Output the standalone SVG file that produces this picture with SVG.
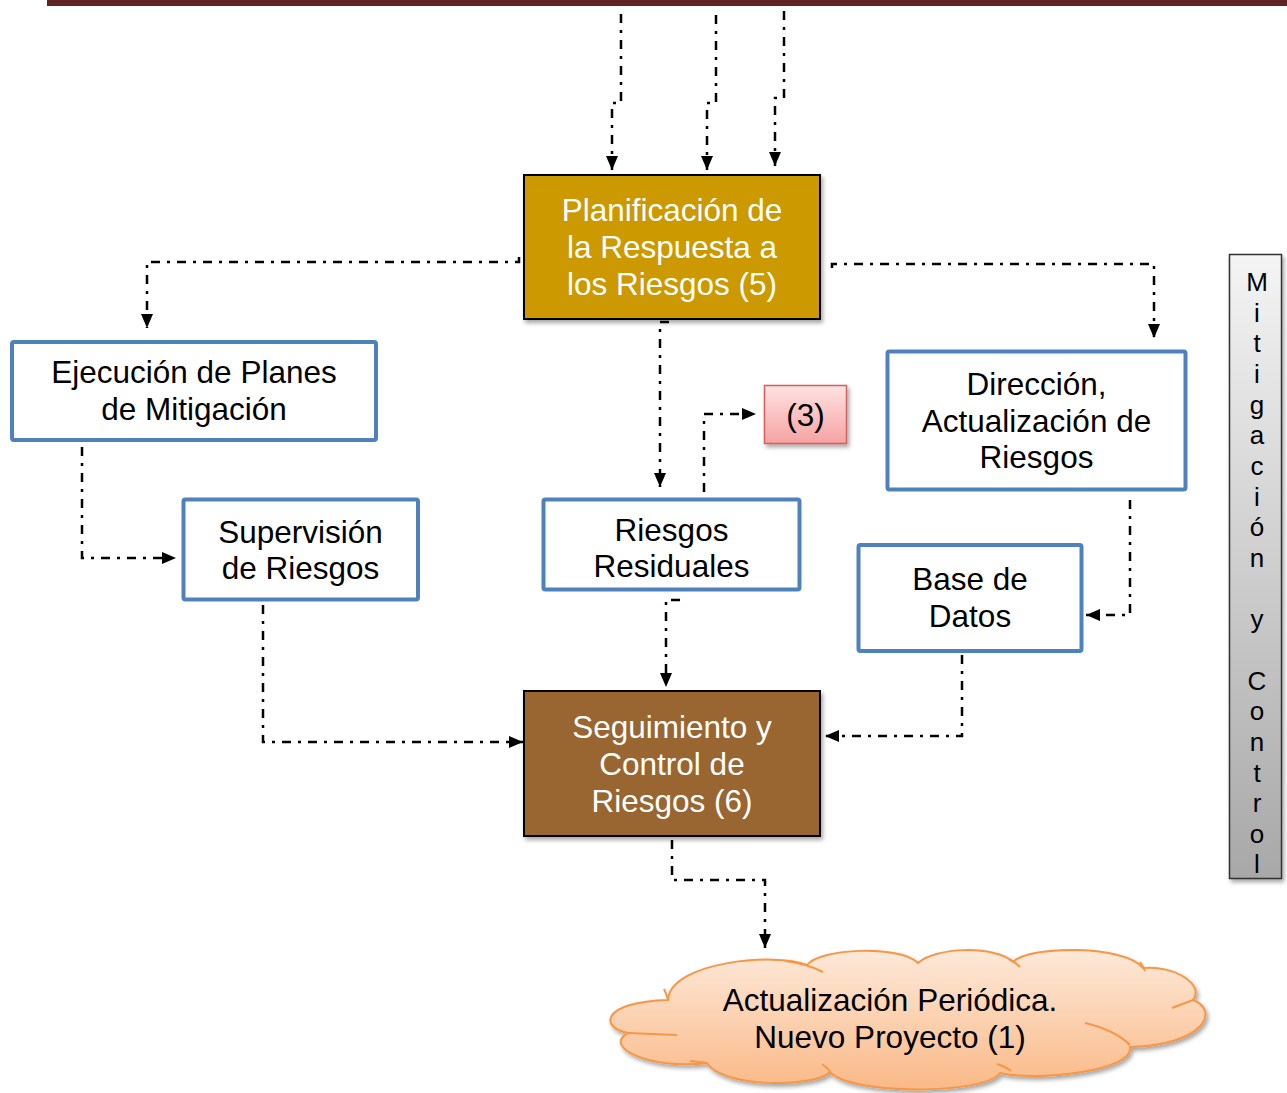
<svg xmlns="http://www.w3.org/2000/svg" width="1287" height="1093" viewBox="0 0 1287 1093">
  <style>
    .lbl { font-family: "Liberation Sans", Arial, sans-serif; font-size: 31.5px; text-anchor: middle; fill: #000; }
    .lbl.w { fill: #fff; }
    .vert { font-family: "Liberation Sans", Arial, sans-serif; font-size: 26px; text-anchor: middle; fill: #000; }
    .blue { fill: #fff; stroke: #4F81BD; stroke-width: 4; }
    .link { fill: none; stroke: #000; stroke-width: 2.5; stroke-dasharray: 9 7 3 7; marker-end: url(#arrow); }
    .puff { fill: none; stroke: #F79646; stroke-width: 2; }
  </style>
  <defs>
    <marker id="arrow" viewBox="0 0 14 12" refX="14" refY="6" markerWidth="14" markerHeight="12" markerUnits="userSpaceOnUse" orient="auto">
      <path d="M0,0 L14,6 L0,12 z" fill="#000"/>
    </marker>
    <filter id="shadow" x="-10%" y="-10%" width="130%" height="130%">
      <feDropShadow dx="2" dy="3" stdDeviation="2" flood-color="#000" flood-opacity="0.35"/>
    </filter>
    <linearGradient id="pink" x1="0" y1="0" x2="0" y2="1">
      <stop offset="0" stop-color="#FFE2E2"/>
      <stop offset="1" stop-color="#F6A3A3"/>
    </linearGradient>
    <linearGradient id="peach" x1="0" y1="0" x2="0" y2="1">
      <stop offset="0" stop-color="#FDE9D9"/>
      <stop offset="1" stop-color="#FAB987"/>
    </linearGradient>
    <linearGradient id="grey" x1="0" y1="0" x2="0" y2="1">
      <stop offset="0" stop-color="#F4F4F4"/>
      <stop offset="1" stop-color="#A8A8A8"/>
    </linearGradient>
  </defs>

  <rect x="0" y="0" width="1287" height="1093" fill="#fff"/>

  <!-- header rule -->
  <rect x="47" y="0" width="1240" height="6" fill="#622423"/>

  <!-- connectors -->
  <g id="connectors">
    <path class="link" d="M621,14 V103 H612 V170"/>
    <path class="link" d="M716,15 V103 H707 V170"/>
    <path class="link" d="M784,11 V98 H775 V166"/>
    <path class="link" d="M519,257 V262 H147 V328"/>
    <path class="link" d="M832,268 V264 H1154 V338"/>
    <path class="link" d="M669,322 H660 V487"/>
    <path class="link" d="M82,447 V558 H176"/>
    <path class="link" d="M263,605 V742 H523"/>
    <path class="link" d="M704,492 V414 H756"/>
    <path class="link" d="M680,600 H666 V687"/>
    <path class="link" d="M1130,500 V615 H1086"/>
    <path class="link" d="M962,655 V736 H825"/>
    <path class="link" d="M672,840 V880 H765 V948"/>
  </g>

  <!-- nodes -->
  <g id="planificacion">
    <rect x="524" y="175" width="296" height="144" fill="#CC9900" stroke="#000" stroke-width="2" filter="url(#shadow)"/>
    <text class="lbl w" x="672" y="221">Planificación de</text>
    <text class="lbl w" x="672" y="258">la Respuesta a</text>
    <text class="lbl w" x="672" y="295">los Riesgos (5)</text>
  </g>

  <g id="ejecucion">
    <rect class="blue" x="12" y="342" width="364" height="98" rx="2"/>
    <text class="lbl" x="194" y="383">Ejecución de Planes</text>
    <text class="lbl" x="194" y="420">de Mitigación</text>
  </g>

  <g id="supervision">
    <rect class="blue" x="183.5" y="499.5" width="234.5" height="100" rx="2"/>
    <text class="lbl" x="300.5" y="543">Supervisión</text>
    <text class="lbl" x="300.5" y="579">de Riesgos</text>
  </g>

  <g id="residuales">
    <rect class="blue" x="543.5" y="499.5" width="256" height="90" rx="2"/>
    <text class="lbl" x="671.5" y="541">Riesgos</text>
    <text class="lbl" x="671.5" y="577">Residuales</text>
  </g>

  <g id="ref3">
    <rect x="764.5" y="385.5" width="82" height="58" fill="url(#pink)" stroke="#D2605E" stroke-width="1.5" filter="url(#shadow)"/>
    <text class="lbl" x="805.5" y="426">(3)</text>
  </g>

  <g id="direccion">
    <rect class="blue" x="887.5" y="351.5" width="298" height="138" rx="2"/>
    <text class="lbl" x="1036.5" y="395">Dirección,</text>
    <text class="lbl" x="1036.5" y="432">Actualización de</text>
    <text class="lbl" x="1036.5" y="468">Riesgos</text>
  </g>

  <g id="basedatos">
    <rect class="blue" x="858.5" y="545" width="223" height="106" rx="2"/>
    <text class="lbl" x="970" y="590">Base de</text>
    <text class="lbl" x="970" y="627">Datos</text>
  </g>

  <g id="seguimiento">
    <rect x="524" y="691" width="296" height="145" fill="#996633" stroke="#000" stroke-width="2" filter="url(#shadow)"/>
    <text class="lbl w" x="672" y="738">Seguimiento y</text>
    <text class="lbl w" x="672" y="775">Control de</text>
    <text class="lbl w" x="672" y="812">Riesgos (6)</text>
  </g>

  <g id="actualizacion">
    <!-- cloud outline: ten puffs, clockwise from the lower-left -->
    <path d="M628,1033 C600,1028 600,1002 668,1000 C670,962 775,952 807,965 C820,948 900,945 918,963 C935,947 995,945 1013,962 C1030,945 1125,945 1143,968 C1175,965 1205,985 1193,1000 C1220,1010 1205,1045 1130,1047 C1135,1070 1040,1082 1000,1073 C985,1095 850,1095 830,1072 C815,1088 722,1088 707,1063 C650,1070 602,1047 628,1033 Z" fill="url(#peach)" stroke="#F79646" stroke-width="2" filter="url(#shadow)"/>
    <!-- inner puff creases -->
    <path class="puff" d="M664,989 Q667,995 668,1000"/>
    <path class="puff" d="M785,961 Q808,964 823,972"/>
    <path class="puff" d="M628,1033 Q655,1034 677,1035"/>
    <path class="puff" d="M690,1061 Q700,1062 707,1063"/>
    <path class="puff" d="M822,1064 Q828,1068 832,1074"/>
    <path class="puff" d="M997,1064 Q1006,1067 1011,1071"/>
    <path class="puff" d="M1085,1023 Q1115,1030 1130,1045"/>
    <path class="puff" d="M1172,1008 Q1185,1003 1193,1000"/>
    <path class="puff" d="M1140,962 Q1143,966 1145,971"/>
    <path class="puff" d="M1009,959 Q1015,962 1020,967"/>
    <text class="lbl" x="890" y="1011">Actualización Periódica.</text>
    <text class="lbl" x="890" y="1048">Nuevo Proyecto (1)</text>
  </g>

  <g id="mitigacion-control">
    <rect x="1229.5" y="254.5" width="52" height="624" fill="url(#grey)" stroke="#333" stroke-width="1.5" filter="url(#shadow)"/>
    <text class="vert" x="1257" y="291">M</text>
    <text class="vert" x="1257" y="321.7">i</text>
    <text class="vert" x="1257" y="352.3">t</text>
    <text class="vert" x="1257" y="383">i</text>
    <text class="vert" x="1257" y="413.6">g</text>
    <text class="vert" x="1257" y="444.3">a</text>
    <text class="vert" x="1257" y="474.9">c</text>
    <text class="vert" x="1257" y="505.6">i</text>
    <text class="vert" x="1257" y="536.2">ó</text>
    <text class="vert" x="1257" y="566.9">n</text>
    <text class="vert" x="1257" y="628.2">y</text>
    <text class="vert" x="1257" y="689.5">C</text>
    <text class="vert" x="1257" y="720.2">o</text>
    <text class="vert" x="1257" y="750.8">n</text>
    <text class="vert" x="1257" y="781.5">t</text>
    <text class="vert" x="1257" y="812.1">r</text>
    <text class="vert" x="1257" y="842.8">o</text>
    <text class="vert" x="1257" y="873.4">l</text>
  </g>
</svg>
